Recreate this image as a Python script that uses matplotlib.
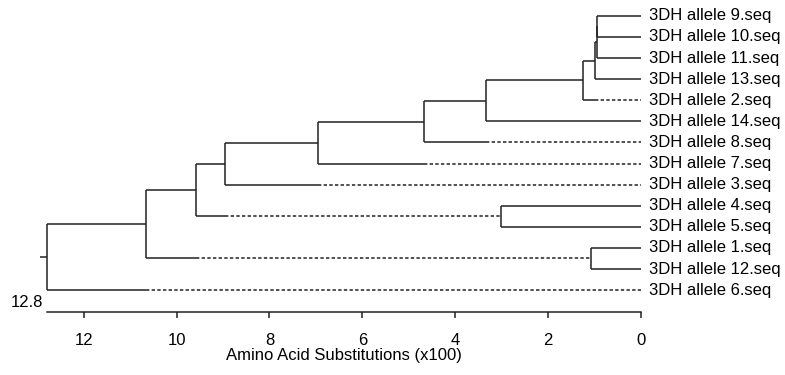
import matplotlib
matplotlib.use('Agg')
import matplotlib.pyplot as plt

# ---------------- data ----------------
# leaves, top to bottom
leaf_names = ['3DH allele 9.seq', '3DH allele 10.seq', '3DH allele 11.seq',
              '3DH allele 13.seq', '3DH allele 2.seq', '3DH allele 14.seq',
              '3DH allele 8.seq', '3DH allele 7.seq', '3DH allele 3.seq',
              '3DH allele 4.seq', '3DH allele 5.seq', '3DH allele 1.seq',
              '3DH allele 12.seq', '3DH allele 6.seq']

# merges: node ids 0..13 are leaves, merge k creates node 14+k
merge_a = [0, 14, 15, 16, 17, 18, 19, 20, 9, 21, 11, 23, 25]
merge_b = [1, 2, 3, 4, 5, 6, 7, 8, 10, 22, 12, 24, 13]
merge_h = [0.935, 0.935, 0.985, 1.24, 3.33, 4.67, 6.95, 8.96, 3.02, 9.59, 1.08, 10.65, 12.8]

# branches drawn partly dashed: child node and value where solid part ends
dash_node = [4, 6, 7, 8, 22, 24, 13]
dash_from = [0.985, 3.33, 4.67, 6.95, 8.96, 9.59, 10.65]

root_value_label = '12.8'
tick_values = [12, 10, 8, 6, 4, 2, 0]
tick_labels = ['12', '10', '8', '6', '4', '2', '0']
x_label = 'Amino Acid Substitutions (x100)'

# ---------------- plot ----------------
plt.rcParams['font.family'] = ['Liberation Sans', 'DejaVu Sans']
LC = '#222222'
LW = 1.1
FS = 12

fig = plt.figure(figsize=(7.85, 3.75), dpi=100)
ax = fig.add_axes([46.7 / 785, 1 - 312.3 / 375, 594 / 785, 312.3 / 375])
ax.set_xlim(12.8, 0)
ax.set_ylim(-0.05, 14.75)

n_leaves = len(leaf_names)
height = {i: 0.0 for i in range(n_leaves)}
ypos = {i: float(n_leaves - i) for i in range(n_leaves)}
for k, (a, b, h) in enumerate(zip(merge_a, merge_b, merge_h)):
    nid = n_leaves + k
    height[nid] = h
    ypos[nid] = (ypos[a] + ypos[b]) / 2.0

dash_map = dict(zip(dash_node, dash_from))

for k, (a, b, h) in enumerate(zip(merge_a, merge_b, merge_h)):
    ax.plot([h, h], [ypos[a], ypos[b]], color=LC, lw=LW, clip_on=False,
            solid_capstyle='butt')
    for c in (a, b):
        if c in dash_map:
            s = dash_map[c]
            ax.plot([h, s], [ypos[c], ypos[c]], color=LC, lw=LW, clip_on=False,
                    solid_capstyle='butt')
            ax.plot([s, height[c]], [ypos[c], ypos[c]], color=LC, lw=LW,
                    clip_on=False, linestyle=(0, (2.2, 1.5)))
        else:
            ax.plot([h, height[c]], [ypos[c], ypos[c]], color=LC, lw=LW,
                    clip_on=False, solid_capstyle='butt')

# root stub
root = n_leaves + len(merge_h) - 1
ax.plot([height[root], height[root] + 0.145], [ypos[root], ypos[root]],
        color=LC, lw=LW, clip_on=False, solid_capstyle='butt')

# leaf labels
for i, name in enumerate(leaf_names):
    ax.annotate(name, xy=(0, ypos[i]), xytext=(8, 0), textcoords='offset pixels',
                ha='left', va='center', fontsize=FS, color='black',
                annotation_clip=False)

ax.annotate(root_value_label, xy=(12.8, 0), xytext=(-4, 4),
            textcoords='offset pixels', ha='right', va='baseline',
            fontsize=FS, annotation_clip=False)

for side in ('left', 'top', 'right'):
    ax.spines[side].set_visible(False)
ax.spines['bottom'].set_bounds(0, 12.8)
ax.spines['bottom'].set_linewidth(LW)
ax.spines['bottom'].set_color(LC)
ax.set_yticks([])
ax.set_xticks(tick_values)
ax.set_xticklabels(tick_labels)
ax.tick_params(axis='x', length=6 * 0.72, width=LW, color=LC, pad=10.5,
               labelsize=FS, direction='out')
ax.set_xlabel(x_label, fontsize=FS, labelpad=0)
ax.patch.set_alpha(0)

fig.savefig('out.png', dpi=100)
